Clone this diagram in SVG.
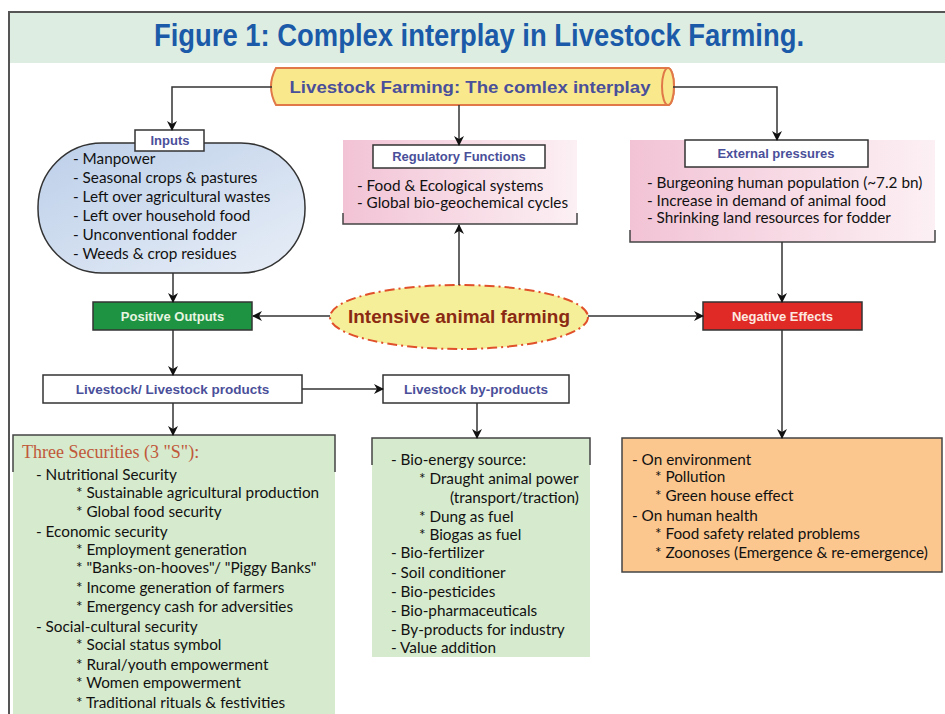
<svg xmlns="http://www.w3.org/2000/svg" width="945" height="714" viewBox="0 0 945 714">
<defs>
<marker id="ah" viewBox="0 0 10 10" refX="9" refY="5" markerWidth="10" markerHeight="10" orient="auto" markerUnits="userSpaceOnUse">
<path d="M0,0 L10,5 L0,10 L3,5 z" fill="#111"/>
</marker>
<linearGradient id="blue" x1="0" y1="0" x2="1" y2="1">
<stop offset="0" stop-color="#bccfe9"/>
<stop offset="1" stop-color="#e8eef7"/>
</linearGradient>
<linearGradient id="pink" x1="0" y1="0" x2="1" y2="0">
<stop offset="0" stop-color="#f2c3d5"/>
<stop offset="1" stop-color="#fcf0f4"/>
</linearGradient>
<style>
.t{font-family:Lato,"Open Sans",sans-serif;font-size:15.3px;fill:#111}
.h{font-family:"Liberation Sans",Arial,sans-serif;font-size:13px;font-weight:bold;fill:#4a4f9a;text-anchor:middle}
.w{fill:#fff;stroke:#333;stroke-width:1.5}
.c{fill:none;stroke:#333;stroke-width:1.5}
.br{fill:none;stroke:#444;stroke-width:1.5}
.g{fill:#d6eacd}
</style>
</defs>
<rect width="945" height="714" fill="#fff"/>
<g id="title">
<rect x="9" y="12" width="936" height="51" fill="#deede2"/>
<path d="M945,12 H9 V714" fill="none" stroke="#555" stroke-width="2"/>
<text x="479" y="46" font-family="'Liberation Sans',Arial,sans-serif" font-size="31" font-weight="bold" fill="#1a5aa8" text-anchor="middle" textLength="650" lengthAdjust="spacingAndGlyphs">Figure 1: Complex interplay in Livestock Farming.</text>
</g>
<g id="top">
<path d="M276,68 H668 A6,18.5 0 0 1 668,105 H276 Q266,86.5 276,68 z" fill="#f9e98c" stroke="#e07848" stroke-width="2"/>
<ellipse cx="668" cy="86.5" rx="6" ry="18.5" fill="#f9e98c" stroke="#e07848" stroke-width="2"/>
<text x="470" y="93" font-family="'Liberation Sans',Arial,sans-serif" font-size="16.5" font-weight="bold" fill="#4a4f9a" text-anchor="middle" textLength="361" lengthAdjust="spacingAndGlyphs">Livestock Farming: The comlex interplay</text>
</g>
<g id="inputs">
<rect x="38" y="143" width="267" height="130" rx="64" ry="64" fill="url(#blue)" stroke="#333" stroke-width="1.5"/>
<rect class="w" x="135" y="130" width="69" height="21"/>
<text class="h" x="170" y="145">Inputs</text>
<text class="t" x="73" y="164">- Manpower</text>
<text class="t" x="73" y="183">- Seasonal crops &amp; pastures</text>
<text class="t" x="73" y="202">- Left over agricultural wastes</text>
<text class="t" x="73" y="221">- Left over household food</text>
<text class="t" x="73" y="240">- Unconventional fodder</text>
<text class="t" x="73" y="259">- Weeds &amp; crop residues</text>
</g>
<g id="regulatory">
<rect x="343" y="140" width="234" height="84" fill="url(#pink)"/>
<path class="br" d="M343,213 V224 H577 V213"/>
<rect class="w" x="373" y="145" width="172" height="23"/>
<text class="h" x="459" y="161">Regulatory Functions</text>
<text class="t" x="357" y="191">- Food &amp; Ecological systems</text>
<text class="t" x="357" y="208">- Global bio-geochemical cycles</text>
</g>
<g id="external">
<rect x="630" y="140" width="305" height="102" fill="url(#pink)"/>
<path class="br" d="M630,230 V242 H935 V230"/>
<rect class="w" x="685" y="140" width="183" height="27"/>
<text class="h" x="776" y="158">External pressures</text>
<text class="t" x="647" y="188">- Burgeoning human population (~7.2 bn)</text>
<text class="t" x="647" y="205.5">- Increase in demand of animal food</text>
<text class="t" x="647" y="223">- Shrinking land resources for fodder</text>
</g>
<g id="intensive">
<ellipse cx="459" cy="317" rx="129" ry="32" fill="#f6ef9a" stroke="#e0502a" stroke-width="2" stroke-dasharray="10,4,2,4"/>
<text x="459" y="323" font-family="'Liberation Sans',Arial,sans-serif" font-size="18" font-weight="bold" fill="#8a2a12" text-anchor="middle" textLength="222" lengthAdjust="spacingAndGlyphs">Intensive animal farming</text>
</g>
<g id="positive">
<rect x="93" y="302" width="159" height="28" fill="#1e9443" stroke="#333" stroke-width="1.5"/>
<text class="h" x="172.5" y="321" style="fill:#e8f5e0">Positive Outputs</text>
</g>
<g id="negative">
<rect x="703" y="302" width="159" height="28" fill="#e02a26" stroke="#333" stroke-width="1.5"/>
<text class="h" x="782.5" y="321" style="fill:#fde8e0">Negative Effects</text>
</g>
<g id="products">
<rect class="w" x="43" y="375" width="259" height="28"/>
<text class="h" x="172.5" y="394" style="font-size:13.5px">Livestock/ Livestock products</text>
</g>
<g id="byproducts">
<rect class="w" x="383" y="375" width="186" height="28"/>
<text class="h" x="476" y="394" style="font-size:13.5px">Livestock by-products</text>
</g>
<g id="securities">
<rect class="g" x="13" y="435" width="322" height="279"/>
<path class="br" d="M13,472 V435 H335 V472"/>
<text x="22" y="458" font-family="'Liberation Serif','Times New Roman',serif" font-size="18" fill="#c0583a">Three Securities (3 "S"):</text>
<text class="t" x="36" y="480">- Nutritional Security</text>
<text class="t" x="76" y="498">* Sustainable agricultural production</text>
<text class="t" x="76" y="517">* Global food security</text>
<text class="t" x="36" y="537">- Economic security</text>
<text class="t" x="76" y="555">* Employment generation</text>
<text class="t" x="76" y="573">* "Banks-on-hooves"/ "Piggy Banks"</text>
<text class="t" x="76" y="593">* Income generation of farmers</text>
<text class="t" x="76" y="612">* Emergency cash for adversities</text>
<text class="t" x="36" y="632">- Social-cultural security</text>
<text class="t" x="76" y="650">* Social status symbol</text>
<text class="t" x="76" y="670">* Rural/youth empowerment</text>
<text class="t" x="76" y="688">* Women empowerment</text>
<text class="t" x="76" y="708">* Traditional rituals &amp; festivities</text>
</g>
<g id="byproduct-list">
<rect class="g" x="372" y="438" width="218" height="219"/>
<path class="br" d="M372,465 V438 H590 V465"/>
<text class="t" x="391" y="465">- Bio-energy source:</text>
<text class="t" x="419" y="484">* Draught animal power</text>
<text class="t" x="450" y="503">(transport/traction)</text>
<text class="t" x="419" y="522">* Dung as fuel</text>
<text class="t" x="419" y="540">* Biogas as fuel</text>
<text class="t" x="391" y="558">- Bio-fertilizer</text>
<text class="t" x="391" y="578">- Soil conditioner</text>
<text class="t" x="391" y="597">- Bio-pesticides</text>
<text class="t" x="391" y="616">- Bio-pharmaceuticals</text>
<text class="t" x="391" y="635">- By-products for industry</text>
<text class="t" x="391" y="653">- Value addition</text>
</g>
<g id="effects">
<rect x="622" y="438" width="320" height="134" fill="#fbc78e" stroke="#444" stroke-width="1.5"/>
<text class="t" x="632" y="465">- On environment</text>
<text class="t" x="655" y="482">* Pollution</text>
<text class="t" x="655" y="501">* Green house effect</text>
<text class="t" x="632" y="521">- On human health</text>
<text class="t" x="655" y="539">* Food safety related problems</text>
<text class="t" x="655" y="558">* Zoonoses (Emergence &amp; re-emergence)</text>
</g>
<g id="connectors">
<path class="c" d="M272,87 H172 V130" marker-end="url(#ah)"/>
<path class="c" d="M459,105 V145" marker-end="url(#ah)"/>
<path class="c" d="M673,87 H777 V140" marker-end="url(#ah)"/>
<path class="c" d="M173,273 V302" marker-end="url(#ah)"/>
<path class="c" d="M459,285 V225" marker-end="url(#ah)"/>
<path class="c" d="M330,316 H253" marker-end="url(#ah)"/>
<path class="c" d="M588,316 H703" marker-end="url(#ah)"/>
<path class="c" d="M782,242 V302" marker-end="url(#ah)"/>
<path class="c" d="M173,330 V375" marker-end="url(#ah)"/>
<path class="c" d="M302,389 H383" marker-end="url(#ah)"/>
<path class="c" d="M173,403 V435" marker-end="url(#ah)"/>
<path class="c" d="M477,403 V438" marker-end="url(#ah)"/>
<path class="c" d="M782,330 V438" marker-end="url(#ah)"/>
</g>
</svg>
